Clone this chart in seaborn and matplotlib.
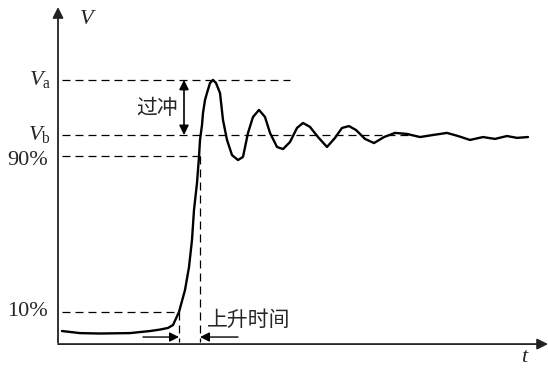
import numpy as np
import pandas as pd
import matplotlib.pyplot as plt
import seaborn as sns

sns.set_theme(style='white')
plt.rcParams['font.family'] = ['Liberation Serif', 'Noto Sans CJK SC', 'DejaVu Sans']
plt.rcParams['mathtext.fontset'] = 'custom'
plt.rcParams['mathtext.rm'] = 'Liberation Serif'
plt.rcParams['mathtext.it'] = 'Liberation Serif:italic'

# waveform (t in arbitrary units, V relative to Vb)
t = [0.4, 2.2, 4.2, 7.2, 9.2, 10.2, 11.0, 11.5, 12.1, 12.7, 13.1, 13.4, 13.6, 13.9,
     14.1, 14.2, 14.4, 14.5, 14.7, 14.9, 15.2, 15.5, 15.8, 16.2, 16.5, 16.9, 17.4,
     18.0, 18.5, 19.0, 19.5, 20.1, 20.7, 21.2, 21.9, 22.5, 23.2, 23.9, 24.5, 25.2,
     26.0, 26.9, 27.7, 28.4, 29.1, 29.8, 30.7, 31.6, 32.6, 33.7, 34.9, 36.2, 37.5,
     38.9, 40.0, 41.2, 42.5, 43.7, 44.9, 45.9, 47.0]
v = [0.053, 0.043, 0.041, 0.043, 0.053, 0.060, 0.068, 0.082, 0.145, 0.251, 0.362,
     0.493, 0.638, 0.768, 0.894, 0.976, 1.048, 1.106, 1.169, 1.203, 1.251, 1.266,
     1.251, 1.203, 1.072, 0.976, 0.903, 0.879, 0.894, 1.010, 1.087, 1.121, 1.087,
     1.010, 0.942, 0.932, 0.966, 1.034, 1.058, 1.039, 0.990, 0.942, 0.986, 1.034,
     1.043, 1.024, 0.981, 0.961, 0.990, 1.010, 1.005, 0.990, 1.000, 1.010, 0.995,
     0.976, 0.990, 0.981, 0.995, 0.986, 0.990]

v_a = 1.266
v_b = 1.0
v_90 = 0.899
v_10 = 0.145
t_10 = 12.1
t_90 = 14.2

df = pd.DataFrame({'t': t, 'v': v})

fig = plt.figure(figsize=(5.48, 3.69), dpi=100)
ax = fig.add_axes([0, 0, 1, 1])
ax.set_xlim(-5.8, 49.0)
ax.set_ylim(-0.1304, 1.652)
ax.axis('off')

sns.lineplot(data=df, x='t', y='v', color='black', lw=1.7, ax=ax, sort=False)

dash = dict(color='black', lw=0.9, ls=(0, (6.4, 4)))
ax.plot([0.4, 23.2], [v_a, v_a], **dash)
ax.plot([0.4, 35.2], [v_b, v_b], **dash)
ax.plot([0.4, t_90], [v_90, v_90], **dash)
ax.plot([0.4, t_10 - 0.1], [v_10, v_10], **dash)
ax.plot([t_10, t_10], [v_10, 0], **dash)
ax.plot([t_90, t_90], [v_90, 0], **dash)

# axes with arrows
ax.annotate('', xy=(0, 1.618), xytext=(0, -0.003),
            arrowprops=dict(arrowstyle='-|>', color='#222222', lw=1.3,
                            mutation_scale=16, shrinkA=0, shrinkB=0))
ax.annotate('', xy=(49.0, -0.01), xytext=(0, -0.01),
            arrowprops=dict(arrowstyle='-|>', color='#222222', lw=1.3,
                            mutation_scale=16, shrinkA=0, shrinkB=0))

# overshoot arrow
ax.annotate('', xy=(12.6, v_a), xytext=(12.6, v_b),
            arrowprops=dict(arrowstyle='<|-|>', color='black', lw=1.2,
                            mutation_scale=14, shrinkA=0, shrinkB=0))
ax.text(9.9, 1.13, '过冲', fontsize=15, ha='center', va='center',
        family=['Noto Sans CJK SC'])

# rise time arrows
ax.annotate('', xy=(t_10, 0.024), xytext=(8.5, 0.024),
            arrowprops=dict(arrowstyle='-|>', color='black', lw=1.0,
                            mutation_scale=14, shrinkA=0, shrinkB=0))
ax.annotate('', xy=(t_90, 0.024), xytext=(18.0, 0.024),
            arrowprops=dict(arrowstyle='-|>', color='black', lw=1.0,
                            mutation_scale=14, shrinkA=0, shrinkB=0))
ax.text(14.9, 0.106, '上升时间', fontsize=15, ha='left', va='center',
        family=['Noto Sans CJK SC'])

# labels
ax.text(3.0, 1.556, '$V$', fontsize=16, ha='center', va='center')
ax.text(46.7, -0.075, '$t$', fontsize=16, ha='center', va='center')
ax.text(-0.7, v_a, r'$V_{\mathrm{a}}$', fontsize=16, ha='right', va='center')
ax.text(-0.7, v_b, r'$V_{\mathrm{b}}$', fontsize=16, ha='right', va='center')
ax.text(-1.0, v_90 - 0.02, '90%', fontsize=16, ha='right', va='center')
ax.text(-1.0, v_10, '10%', fontsize=16, ha='right', va='center')

fig.savefig('out.png', dpi=100)
